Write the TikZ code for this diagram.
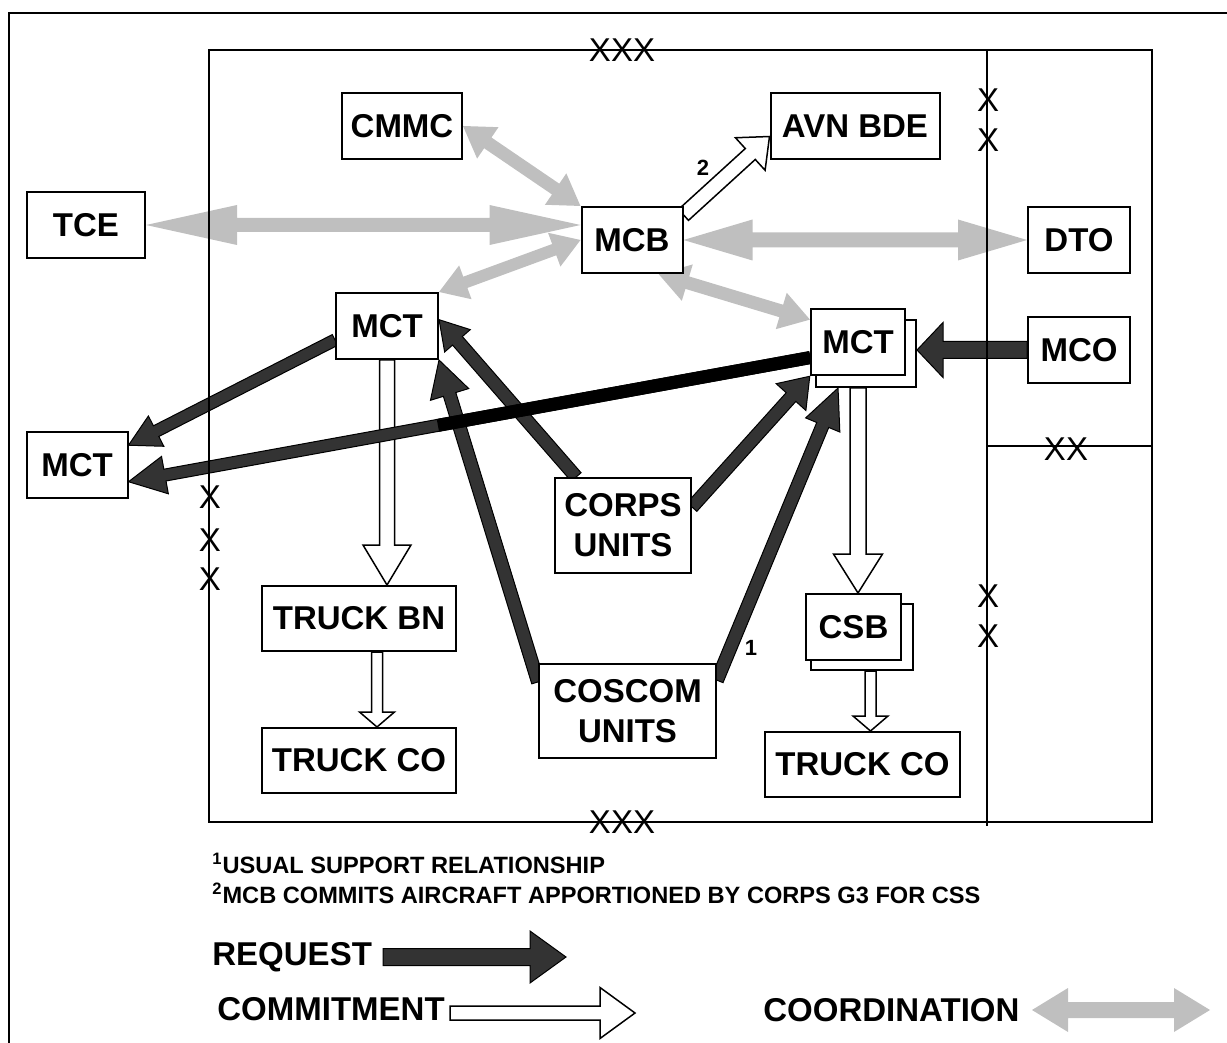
\documentclass[tikz,border=0pt]{standalone}
\usepackage{fontspec}
\setmainfont{Liberation Sans}
\usepackage{tikz}
\usetikzlibrary{calc, backgrounds}

\newcommand{\boxfont}{\bfseries\fontsize{16.5}{20}\selectfont}
\newcommand{\notefont}{\bfseries\fontsize{11.8}{13}\selectfont}
\newcommand{\echfont}{\fontsize{16.5}{18}\selectfont}
\newcommand{\digitfont}{\bfseries\fontsize{11}{13}\selectfont}

% block arrows between two points: style, from, to, shaft, head, head length
\newcommand{\arrowprep}[2]{%
  \path (#1) coordinate (ba-a) (#2) coordinate (ba-b);
  \pgfmathanglebetweenpoints{\pgfpointanchor{ba-a}{center}}{\pgfpointanchor{ba-b}{center}}%
  \edef\baang{\pgfmathresult}%
  \pgfpointdiff{\pgfpointanchor{ba-a}{center}}{\pgfpointanchor{ba-b}{center}}%
  \pgfgetlastxy{\badx}{\bady}%
  \pgfmathveclen{\badx}{\bady}%
  \edef\balen{\pgfmathresult}}
\newcommand{\onearrow}[6]{%
  \arrowprep{#2}{#3}%
  \draw[#1, shift={(ba-a)}, rotate=\baang]
    (0pt,-#4) -- (\balen pt-#6,-#4) -- (\balen pt-#6,-#5) -- (\balen pt,0pt)
    -- (\balen pt-#6,#5) -- (\balen pt-#6,#4) -- (0pt,#4) -- cycle;}
\newcommand{\twoarrow}[6]{%
  \arrowprep{#2}{#3}%
  \draw[#1, shift={(ba-a)}, rotate=\baang]
    (0pt,0pt) -- (#6,#5) -- (#6,#4) -- (\balen pt-#6,#4) -- (\balen pt-#6,#5)
    -- (\balen pt,0pt) -- (\balen pt-#6,-#5) -- (\balen pt-#6,-#4) -- (#6,-#4)
    -- (#6,-#5) -- cycle;}

\begin{document}
\begin{tikzpicture}[x=.5pt, y=-.5pt]
\tikzstyle{unitbox} = [draw, fill=white, line width=1pt, inner sep=2pt, minimum height=33pt, font=\boxfont]
\tikzstyle{echelon} = [inner sep=0pt, font=\echfont]
\tikzstyle{request} = [draw=black, fill=black!80, line width=.5pt]
\tikzstyle{commitment} = [draw=black, fill=white, line width=.75pt]
\tikzstyle{coordination} = [draw=none, fill=black!25]
\tikzstyle{legendtext} = [anchor=base west, inner sep=0pt, font=\boxfont]
\tikzstyle{notetext} = [anchor=base west, inner sep=0pt, font=\notefont]

\useasboundingbox (0,0) rectangle (1227,1043);

  \draw
  node (tce) [unitbox, minimum width=59pt] at (86,225) {TCE}
  node (cmmc) [unitbox, minimum width=60pt] at (402,126) {CMMC}
  node (avn) [unitbox, minimum width=84.5pt] at (855,126) {AVN BDE}
  node (mcb) [unitbox, minimum width=50.5pt] at (632,240) {MCB}
  node (dto) [unitbox, minimum width=51pt] at (1079,240) {DTO}
  node (mco) [unitbox, minimum width=51pt] at (1079,350) {MCO}
  node (mctl) [unitbox, minimum width=51pt] at (387,326) {MCT}
  node (mctf) [unitbox, minimum width=50.5pt] at (77,465) {MCT}
  node (mctrb) [unitbox, minimum width=50pt, minimum height=33.5pt] at (866,353.5) {}
  node (mctr) [unitbox, minimum width=47pt] at (858,342) {MCT}
  node (corps) [unitbox, align=center, minimum width=68pt, minimum height=47.5pt] at (623,525.5) {CORPS\\UNITS}
  node (coscom) [unitbox, align=center, minimum width=88.5pt, minimum height=47pt] at (627.5,711) {COSCOM\\UNITS}
  node (truckbn) [unitbox, minimum width=97pt, minimum height=32.5pt] at (359,618.5) {TRUCK BN}
  node (truckcol) [unitbox, minimum width=97pt, minimum height=32.5pt] at (359,760.5) {TRUCK CO}
  node (csbb) [unitbox, minimum width=51pt] at (862,637) {}
  node (csb) [unitbox, minimum width=47.5pt] at (853.5,627) {CSB}
  node (truckcor) [unitbox, minimum width=97.5pt, minimum height=32.5pt] at (862.5,764.5) {TRUCK CO};

  % echelon marks
  \draw
  node (xxxtop) [echelon] at (622,50) {XXX}
  node (xxxbot) [echelon] at (622,822) {XXX}
  node (xxdiv) [echelon] at (1066,449) {XX}
  node (xl1) [echelon] at (210,497) {X}
  node (xl2) [echelon] at (210,540) {X}
  node (xl3) [echelon] at (210,579) {X}
  node (xr1) [echelon] at (988,100) {X}
  node (xr2) [echelon] at (988,140) {X}
  node (xr3) [echelon] at (988,596) {X}
  node (xr4) [echelon] at (988,636) {X};

  \draw
  node (one) [font=\digitfont] at (751,648) {1}
  node (two) [font=\digitfont] at (703,168) {2}
  node (note1) [notetext] at (212,873) {\textsuperscript{1}USUAL SUPPORT RELATIONSHIP}
  node (note2) [notetext] at (212,903) {\textsuperscript{2}MCB COMMITS AIRCRAFT APPORTIONED BY CORPS G3 FOR CSS}
  node (reqlabel) [legendtext] at (212,965) {REQUEST}
  node (comlabel) [legendtext] at (217,1020) {COMMITMENT}
  node (coolabel) [legendtext] at (763,1021) {COORDINATION};

  \coordinate (reqstart) at (383,957);
  \coordinate (reqend) at (566,957);
  \coordinate (comstart) at (450,1013);
  \coordinate (comend) at (635,1013);
  \coordinate (coostart) at (1032,1010);
  \coordinate (cooend) at (1210,1010);
  \coordinate (bnout) at ([xshift=9pt]truckbn.south);
  \coordinate (csbout) at ([xshift=4.25pt]csbb.south);
  \coordinate (brk) at ($(mctr.198)!.546!(mctf.-18)$);

\begin{pgfonlayer}{background}
  \twoarrow{coordination}{tce.east}{tce.east -| mcb.west}{3.5pt}{10pt}{45.5pt}
  \twoarrow{coordination}{mcb.east}{dto.west}{3.75pt}{10.25pt}{34.5pt}
  \twoarrow{coordination}{cmmc.east}{mcb.north west}{3.25pt}{9.5pt}{15pt}
  \twoarrow{coordination}{mcb.west}{mctl.north east}{3pt}{9pt}{14pt}
  \twoarrow{coordination}{mcb.-52}{mctr.155}{3.25pt}{9.5pt}{15pt}

  \onearrow{commitment}{mcb.26}{avn.187}{3.7pt}{11pt}{13pt}
  \onearrow{commitment}{mctl.south}{mctl.south |- truckbn.north}{3.75pt}{12pt}{20pt}
  \onearrow{commitment}{bnout}{bnout |- truckcol.north}{2.75pt}{8.75pt}{7.5pt}
  \onearrow{commitment}{mctr.south |- mctrb.south}{mctr.south |- csb.north}{4pt}{12.25pt}{19.5pt}
  \onearrow{commitment}{csbout}{csbout |- truckcor.north}{2.75pt}{8.75pt}{7.5pt}

  \onearrow{request}{mctl.195}{mctf.21}{3pt}{8.5pt}{15.5pt}
  \onearrow{request}{corps.134}{mctl.7}{3.25pt}{8.5pt}{14pt}
  \onearrow{request}{coscom.162}{mctl.south east}{3.25pt}{10pt}{18pt}
  \onearrow{request}{corps.15}{mctr.south west}{3.25pt}{10pt}{14pt}
  \onearrow{request}{coscom.19}{mctrb.231}{3.25pt}{9.25pt}{20pt}
  \onearrow{request}{mco.west}{mco.west -| mctrb.east}{4.25pt}{13.75pt}{13pt}
  \onearrow{request}{mctr.198}{mctf.-18}{3pt}{9.5pt}{18.5pt}
  \draw [line width=6.5pt] (mctr.198) -- (brk);

  % legend
  \onearrow{request}{reqstart}{reqend}{4.25pt}{13pt}{18pt}
  \onearrow{commitment}{comstart}{comend}{3.5pt}{12.75pt}{17.5pt}
  \twoarrow{coordination}{coostart}{cooend}{4pt}{11pt}{18pt}

  % frames
  \draw [line width=1pt] (9,1043) -- (9,13) -- (1227,13);
  \draw [line width=.75pt] (209,50) rectangle (1152,822);
  \draw [line width=.75pt] (987,50) -- (987,826) (987,446) -- (1151,446);
\end{pgfonlayer}
\end{tikzpicture}
\end{document}
